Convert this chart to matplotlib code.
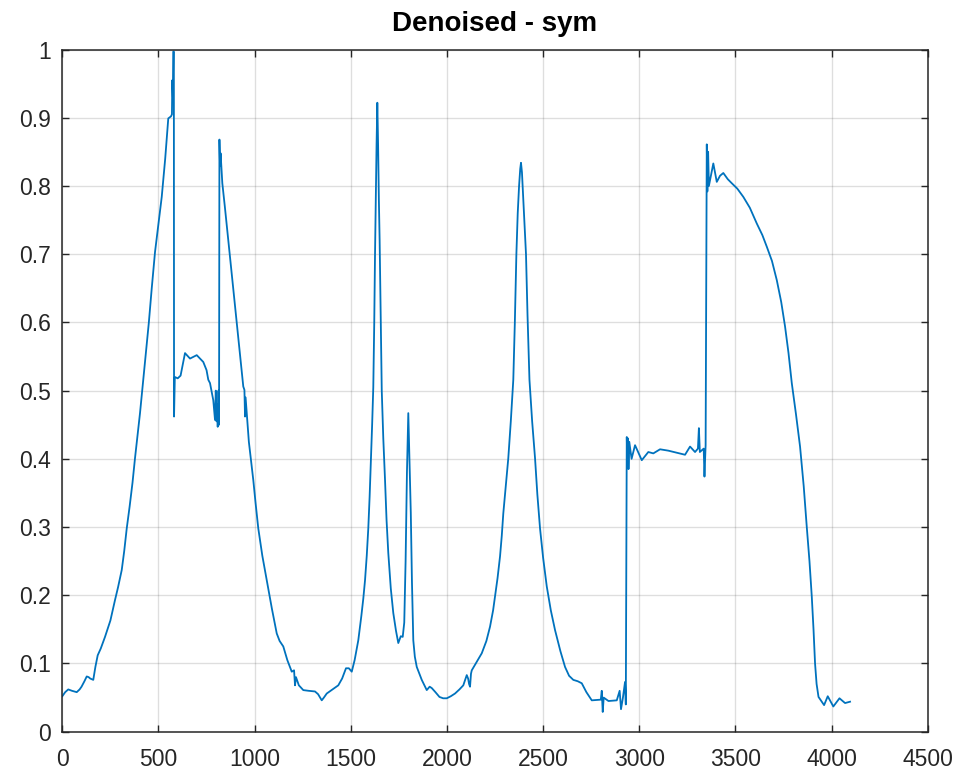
import matplotlib
matplotlib.use("Agg")
import matplotlib.pyplot as plt

plt.rcParams['font.family'] = ['Liberation Sans', 'DejaVu Sans']

# values (sample index, amplitude)
x_vals = [0, 15, 31, 50, 75, 90, 100, 115, 127, 137, 145, 161, 172, 184,
          200, 222, 250, 274, 290, 309, 322, 335, 350, 365, 378, 390, 404, 421,
          435, 450, 465, 482, 500, 517, 535, 551, 565, 570, 572, 575, 577, 580,
          581, 585, 600, 615, 638, 664, 699, 733, 750, 759, 768, 785, 794,
          798, 802, 806, 808, 812, 815, 817, 820, 823, 832, 845, 863, 885, 907,
          925, 941, 947, 950, 953, 970, 993, 1005, 1019, 1040, 1063, 1090, 1115,
          1130, 1149, 1170, 1193, 1205, 1210, 1215, 1230, 1253, 1280, 1314,
          1330, 1349, 1360, 1375, 1405, 1435, 1455, 1475, 1490, 1505, 1520,
          1539, 1555, 1565, 1574, 1583, 1591, 1598, 1605, 1611, 1617, 1622,
          1626, 1630, 1634, 1638, 1642, 1646, 1650, 1655, 1661, 1669, 1678,
          1686, 1695, 1708, 1721, 1735, 1747, 1760, 1770, 1778, 1785, 1792,
          1799, 1803, 1808, 1812, 1818, 1825, 1833, 1843, 1869, 1895, 1910,
          1921, 1940, 1961, 1980, 1999, 2020, 2042, 2065, 2085, 2103, 2110,
          2115, 2120, 2125, 2129, 2150, 2181, 2205, 2224, 2240, 2250, 2263,
          2276, 2285, 2293, 2306, 2319, 2332, 2345, 2353, 2361, 2368, 2375,
          2381, 2385, 2390, 2397, 2404, 2411, 2419, 2429, 2443, 2458, 2470,
          2484, 2500, 2519, 2540, 2562, 2590, 2614, 2635, 2657, 2680, 2701,
          2725, 2753, 2800, 2805, 2810, 2815, 2840, 2883, 2898, 2905, 2915,
          2926, 2930, 2935, 2938, 2941, 2944, 2948, 2960, 2978, 3013, 3047,
          3073, 3108, 3151, 3195, 3238, 3264, 3290, 3305, 3310, 3315, 3335,
          3339, 3345, 3351, 3354, 3358, 3362, 3385, 3403, 3420, 3437, 3460,
          3481, 3510, 3541, 3575, 3611, 3640, 3663, 3690, 3715, 3738, 3758,
          3776, 3793, 3815, 3836, 3855, 3871, 3885, 3897, 3906, 3914, 3922,
          3932, 3961, 3980, 4009, 4041, 4070, 4096]
y_vals = [0.052, 0.058, 0.062, 0.060, 0.058, 0.062, 0.066, 0.074, 0.081, 0.080, 0.078, 0.076, 0.095, 0.112,
          0.122, 0.139, 0.163, 0.193, 0.212, 0.237, 0.265, 0.298, 0.330, 0.365, 0.401, 0.432, 0.467, 0.516,
          0.555, 0.600, 0.650, 0.703, 0.745, 0.784, 0.840, 0.899, 0.902, 0.905, 0.955, 0.930, 0.997, 0.997,
          0.462, 0.520, 0.518, 0.522, 0.555, 0.547, 0.552, 0.542, 0.530, 0.516, 0.511, 0.486, 0.457,
          0.500, 0.455, 0.480, 0.447, 0.500, 0.450, 0.868, 0.830, 0.848, 0.804, 0.770, 0.721, 0.660, 0.599,
          0.550, 0.506, 0.501, 0.462, 0.490, 0.425, 0.369, 0.335, 0.298, 0.258, 0.222, 0.180, 0.144,
          0.133, 0.125, 0.105, 0.088, 0.090, 0.068, 0.080, 0.068, 0.061, 0.060, 0.059,
          0.055, 0.046, 0.050, 0.056, 0.062, 0.068, 0.078, 0.093, 0.093, 0.088, 0.105,
          0.134, 0.170, 0.195, 0.222, 0.258, 0.298, 0.345, 0.401, 0.450, 0.505, 0.600,
          0.700, 0.780, 0.860, 0.922, 0.860, 0.780, 0.720, 0.620, 0.500, 0.430, 0.369,
          0.310, 0.262, 0.210, 0.174, 0.148, 0.130, 0.140, 0.139, 0.160, 0.250, 0.380,
          0.467, 0.420, 0.360, 0.321, 0.220, 0.134, 0.110, 0.095, 0.076, 0.061, 0.066,
          0.064, 0.058, 0.051, 0.049, 0.049, 0.052, 0.056, 0.062, 0.068, 0.083, 0.078,
          0.070, 0.066, 0.085, 0.090, 0.100, 0.115, 0.133, 0.154, 0.178, 0.198, 0.225,
          0.257, 0.287, 0.320, 0.360, 0.401, 0.455, 0.516, 0.600, 0.700, 0.760, 0.800,
          0.825, 0.834, 0.820, 0.780, 0.740, 0.700, 0.610, 0.516, 0.455, 0.401, 0.348,
          0.298, 0.255, 0.213, 0.178, 0.149, 0.118, 0.095, 0.082, 0.076, 0.074, 0.071,
          0.058, 0.046, 0.047, 0.060, 0.029, 0.050, 0.045, 0.046, 0.060, 0.033, 0.050,
          0.073, 0.040, 0.432, 0.390, 0.430, 0.385, 0.425, 0.400, 0.420, 0.398, 0.410,
          0.408, 0.414, 0.412, 0.409, 0.406, 0.418, 0.410, 0.415, 0.445, 0.410, 0.415,
          0.374, 0.420, 0.861, 0.792, 0.850, 0.800, 0.833, 0.806, 0.815, 0.819, 0.810,
          0.804, 0.796, 0.784, 0.768, 0.745, 0.728, 0.711, 0.690, 0.662, 0.630, 0.594,
          0.555, 0.511, 0.465, 0.418, 0.360, 0.300, 0.250, 0.198, 0.150, 0.100, 0.070,
          0.051, 0.039, 0.052, 0.037, 0.049, 0.042, 0.044]

x_ticks = [0, 500, 1000, 1500, 2000, 2500, 3000, 3500, 4000, 4500]
y_ticks = [0, 0.1, 0.2, 0.3, 0.4, 0.5, 0.6, 0.7, 0.8, 0.9, 1]
y_labels = ['0', '0.1', '0.2', '0.3', '0.4', '0.5', '0.6', '0.7', '0.8', '0.9', '1']

fig = plt.figure(figsize=(9.63, 7.8), dpi=100)
ax = fig.add_axes([0.0647, 0.0619, 0.8987, 0.8746])

ax.plot(x_vals, y_vals, color='#0072BD', linewidth=1.3)

ax.set_xlim(0, 4500)
ax.set_ylim(0, 1)
ax.set_xticks(x_ticks)
ax.set_xticklabels([str(t) for t in x_ticks])
ax.set_yticks(y_ticks)
ax.set_yticklabels(y_labels)

ax.grid(True, color='#262626', alpha=0.15, linewidth=1.0)
ax.set_axisbelow(True)
ax.tick_params(direction='in', length=5, width=1, colors='#262626',
               labelsize=16.5, top=True, right=True)
ax.tick_params(axis='x', pad=12)
ax.tick_params(axis='y', pad=8)
for s in ax.spines.values():
    s.set_color('#262626')
    s.set_linewidth(1.1)

ax.set_title('Denoised - sym', fontsize=20, fontweight='bold', color='black', pad=13)

fig.savefig('out.png', dpi=100)
